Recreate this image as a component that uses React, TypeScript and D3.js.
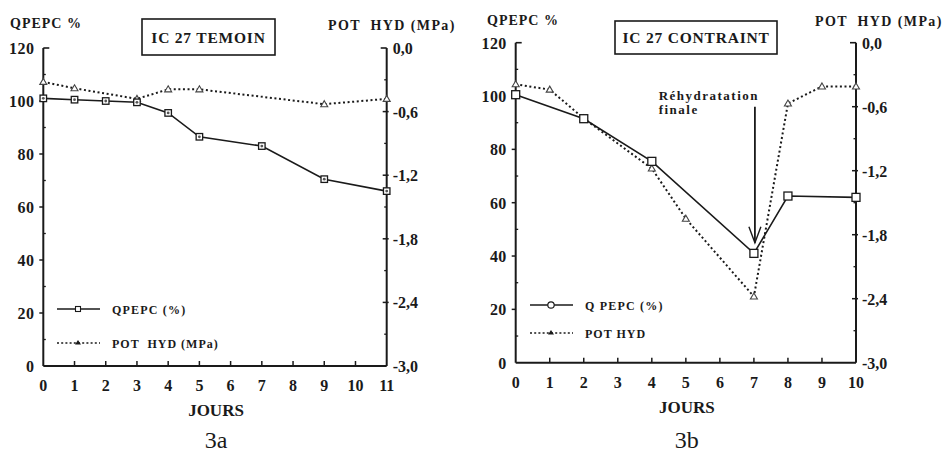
import * as d3 from "d3";

// panel 3a : IC 27 TEMOIN
const daysA = [0, 1, 2, 3, 4, 5, 7, 9, 11];
const qpepcA = [101, 100.5, 100, 99.5, 95.5, 86.5, 83, 70.5, 66];
const potDaysA = [0, 1, 3, 4, 5, 9, 11];
const potA = [-0.32, -0.38, -0.48, -0.39, -0.39, -0.53, -0.48];

// panel 3b : IC 27 CONTRAINT
const daysB = [0, 2, 4, 7, 8, 10];
const qpepcB = [100.5, 91.5, 75.5, 41, 62.5, 62];
const potDaysB = [0, 1, 2, 4, 5, 7, 8, 9, 10];
const potB = [-0.39, -0.44, -0.71, -1.18, -1.65, -2.38, -0.57, -0.41, -0.41];

const leftTicks = [0, 20, 40, 60, 80, 100, 120];
const rightTicks = [0, -0.6, -1.2, -1.8, -2.4, -3.0];
const fmt = (v: number) => v.toFixed(1).replace(".", ",");

const FONT = "Liberation Serif, Times New Roman, serif";
const INK = "#1a1a1a";

type PanelProps = {
  x0: number;
  x1: number;
  yTop: number;
  yBot: number;
  maxDay: number;
  days: number[];
  qpepc: number[];
  potDays: number[];
  pot: number[];
  title: string;
  titleBox: [number, number, number, number];
  labelsY: { left: [number, number]; right: [number, number] };
  legend: { x: number; y1: number; y2: number; q: string; p: string; circle: boolean };
  caption: string;
  bigSquares: boolean;
  arrow?: boolean;
};

function Panel(p: PanelProps) {
  const x = d3.scaleLinear().domain([0, p.maxDay]).range([p.x0, p.x1]);
  const yL = d3.scaleLinear().domain([0, 120]).range([p.yBot, p.yTop]);
  const yR = d3.scaleLinear().domain([-3, 0]).range([p.yBot, p.yTop]);

  const qLine = d3
    .line<number>()
    .x((_, i) => x(p.days[i]))
    .y((d) => yL(d));
  const pLine = d3
    .line<number>()
    .x((_, i) => x(p.potDays[i]))
    .y((d) => yR(d));

  const dayTicks = d3.range(0, p.maxDay + 1);
  const minorL = d3.range(10, 120, 20);
  const minorR = d3.range(-0.3, -3, -0.6);
  const sq = p.bigSquares ? 8 : 6.5;

  return (
    <g style={{ fontFamily: FONT }} fill={INK}>
      {/* axes */}
      <line x1={p.x0} x2={p.x0} y1={p.yTop} y2={p.yBot} stroke={INK} strokeWidth={2} />
      <line x1={p.x1} x2={p.x1} y1={p.yTop} y2={p.yBot} stroke={INK} strokeWidth={2} />
      <line x1={p.x0} x2={p.x1} y1={p.yBot} y2={p.yBot} stroke={INK} strokeWidth={2} />
      <line x1={p.x0} x2={p.x0 + 6} y1={p.yTop} y2={p.yTop} stroke={INK} strokeWidth={1.6} />
      <line x1={p.x1 - 6} x2={p.x1} y1={p.yTop} y2={p.yTop} stroke={INK} strokeWidth={1.6} />

      {leftTicks.map((t) => (
        <g key={"l" + t}>
          {t > 0 && t < 120 && (
            <line x1={p.x0 - 4} x2={p.x0} y1={yL(t)} y2={yL(t)} stroke={INK} strokeWidth={1.5} />
          )}
          <text x={p.x0 - 9} y={yL(t) + 6} textAnchor="end" fontSize={16} fontWeight="bold" letterSpacing={0.4}>
            {t}
          </text>
        </g>
      ))}
      {minorL.map((t) => (
        <line key={"ml" + t} x1={p.x0} x2={p.x0 + 2.5} y1={yL(t)} y2={yL(t)} stroke={INK} strokeWidth={1.3} />
      ))}
      {rightTicks.map((t) => (
        <g key={"r" + t}>
          {t < 0 && t > -3 && (
            <line x1={p.x1 - 4} x2={p.x1 + 2} y1={yR(t)} y2={yR(t)} stroke={INK} strokeWidth={1.5} />
          )}
          <text x={p.x1 + 6} y={yR(t) + 6} fontSize={16} fontWeight="bold">
            {fmt(t)}
          </text>
        </g>
      ))}
      {minorR.map((t) => (
        <line key={"mr" + t} x1={p.x1 - 2.5} x2={p.x1} y1={yR(t)} y2={yR(t)} stroke={INK} strokeWidth={1.3} />
      ))}
      {dayTicks.map((d) => (
        <g key={"d" + d}>
          {d > 0 && d < p.maxDay && (
            <line x1={x(d)} x2={x(d)} y1={p.yBot} y2={p.yBot - 5} stroke={INK} strokeWidth={1.5} />
          )}
          <text x={x(d)} y={p.yBot + 25} textAnchor="middle" fontSize={16} fontWeight="bold">
            {d}
          </text>
        </g>
      ))}

      {/* axis titles */}
      <text x={p.labelsY.left[0]} y={p.labelsY.left[1]} fontSize={14} fontWeight="bold" letterSpacing={1}>
        QPEPC %
      </text>
      <text
        x={p.labelsY.right[0]}
        y={p.labelsY.right[1]}
        fontSize={14}
        fontWeight="bold"
        letterSpacing={1.4}
        xmlSpace="preserve"
      >
        POT  HYD (MPa)
      </text>
      <text x={(p.x0 + p.x1) / 2 + 1} y={p.yBot + 50} textAnchor="middle" fontSize={17} fontWeight="bold">
        JOURS
      </text>
      <text x={(p.x0 + p.x1) / 2 + 1} y={448} textAnchor="middle" fontSize={24}>
        {p.caption}
      </text>

      {/* title box */}
      <rect
        x={p.titleBox[0]}
        y={p.titleBox[1]}
        width={p.titleBox[2]}
        height={p.titleBox[3]}
        fill="none"
        stroke={INK}
        strokeWidth={1.6}
      />
      <text
        x={p.titleBox[0] + p.titleBox[2] / 2}
        y={p.titleBox[1] + p.titleBox[3] / 2 + 5.5}
        textAnchor="middle"
        fontSize={15.5}
        fontWeight="bold"
        letterSpacing={0.8}
      >
        {p.title}
      </text>

      {/* series */}
      <path d={pLine(p.pot) ?? ""} fill="none" stroke={INK} strokeWidth={2} strokeDasharray="2 2.6" />
      <path d={qLine(p.qpepc) ?? ""} fill="none" stroke={INK} strokeWidth={1.6} />
      {p.pot.map((v, i) => {
        const cx = x(p.potDays[i]);
        const cy = yR(v);
        return (
          <path
            key={"pt" + i}
            d={`M${cx},${cy - 3.5}L${cx + 3.5},${cy + 2.5}L${cx - 3.5},${cy + 2.5}Z`}
            fill="#fff"
            stroke="#444"
            strokeWidth={1.1}
          />
        );
      })}
      {p.qpepc.map((v, i) => (
        <g key={"qs" + i}>
          <rect
            x={x(p.days[i]) - sq / 2}
            y={yL(v) - sq / 2}
            width={sq}
            height={sq}
            fill="#fff"
            stroke={INK}
            strokeWidth={1.3}
          />
          {!p.bigSquares && <circle cx={x(p.days[i])} cy={yL(v)} r={1.4} fill="#555" />}
        </g>
      ))}

      {/* legend */}
      <line x1={p.legend.x} x2={p.legend.x + 43} y1={p.legend.y1} y2={p.legend.y1} stroke={INK} strokeWidth={1.3} />
      {p.legend.circle ? (
        <circle cx={p.legend.x + 21} cy={p.legend.y1} r={3.2} fill="#fff" stroke={INK} strokeWidth={1.2} />
      ) : (
        <rect x={p.legend.x + 18.5} y={p.legend.y1 - 2.5} width={5} height={5} fill="#fff" stroke={INK} strokeWidth={1.1} />
      )}
      <line
        x1={p.legend.x}
        x2={p.legend.x + 43}
        y1={p.legend.y2}
        y2={p.legend.y2}
        stroke={INK}
        strokeWidth={1.6}
        strokeDasharray="2 2.2"
      />
      <path
        d={`M${p.legend.x + 21},${p.legend.y2 - 3}L${p.legend.x + 24},${p.legend.y2 + 1.5}L${p.legend.x + 18},${p.legend.y2 + 1.5}Z`}
        fill={INK}
      />
      <text x={p.legend.x + 55} y={p.legend.y1 + 4.5} fontSize={12} fontWeight="bold" letterSpacing={1.2}>
        {p.legend.q}
      </text>
      <text
        x={p.legend.x + 55}
        y={p.legend.y2 + 4.5}
        fontSize={12}
        fontWeight="bold"
        letterSpacing={1}
        xmlSpace="preserve"
      >
        {p.legend.p}
      </text>

      {p.arrow && (
        <g>
          <line x1={x(7) + 1} x2={x(7) + 1} y1={yL(96)} y2={yL(45)} stroke={INK} strokeWidth={1.8} />
          <polyline
            points={`${x(7) - 5},${yL(51)} ${x(7) + 1},${yL(45)} ${x(7) + 7},${yL(51)}`}
            fill="none"
            stroke={INK}
            strokeWidth={1.4}
          />
          <text x={x(4.2)} y={yL(98.5)} fontSize={13} fontWeight="bold" letterSpacing={1.5}>
            Réhydratation
          </text>
          <text x={x(4.2)} y={yL(93.3)} fontSize={13} fontWeight="bold" letterSpacing={1.5}>
            finale
          </text>
        </g>
      )}
    </g>
  );
}

export default function App() {
  return (
    <svg
      width={949}
      height={455}
      style={{ position: "absolute", left: 0, top: 0, background: "#fff", fontFamily: FONT }}
    >
      <Panel
        x0={43.3}
        x1={386.7}
        yTop={48}
        yBot={366}
        maxDay={11}
        days={daysA}
        qpepc={qpepcA}
        potDays={potDaysA}
        pot={potA}
        title="IC 27 TEMOIN"
        titleBox={[142, 19, 133, 36]}
        labelsY={{ left: [10, 28], right: [328, 30] }}
        legend={{ x: 57, y1: 309, y2: 343, q: "QPEPC (%)", p: "POT  HYD (MPa)", circle: false }}
        caption="3a"
        bigSquares={false}
      />
      <Panel
        x0={515.7}
        x1={856}
        yTop={42.7}
        yBot={362.7}
        maxDay={10}
        days={daysB}
        qpepc={qpepcB}
        potDays={potDaysB}
        pot={potB}
        title="IC 27 CONTRAINT"
        titleBox={[615, 21, 162, 33]}
        labelsY={{ left: [487, 25], right: [815, 26] }}
        legend={{ x: 530, y1: 305, y2: 333, q: "Q PEPC (%)", p: "POT HYD", circle: true }}
        caption="3b"
        bigSquares={true}
        arrow
      />
    </svg>
  );
}
